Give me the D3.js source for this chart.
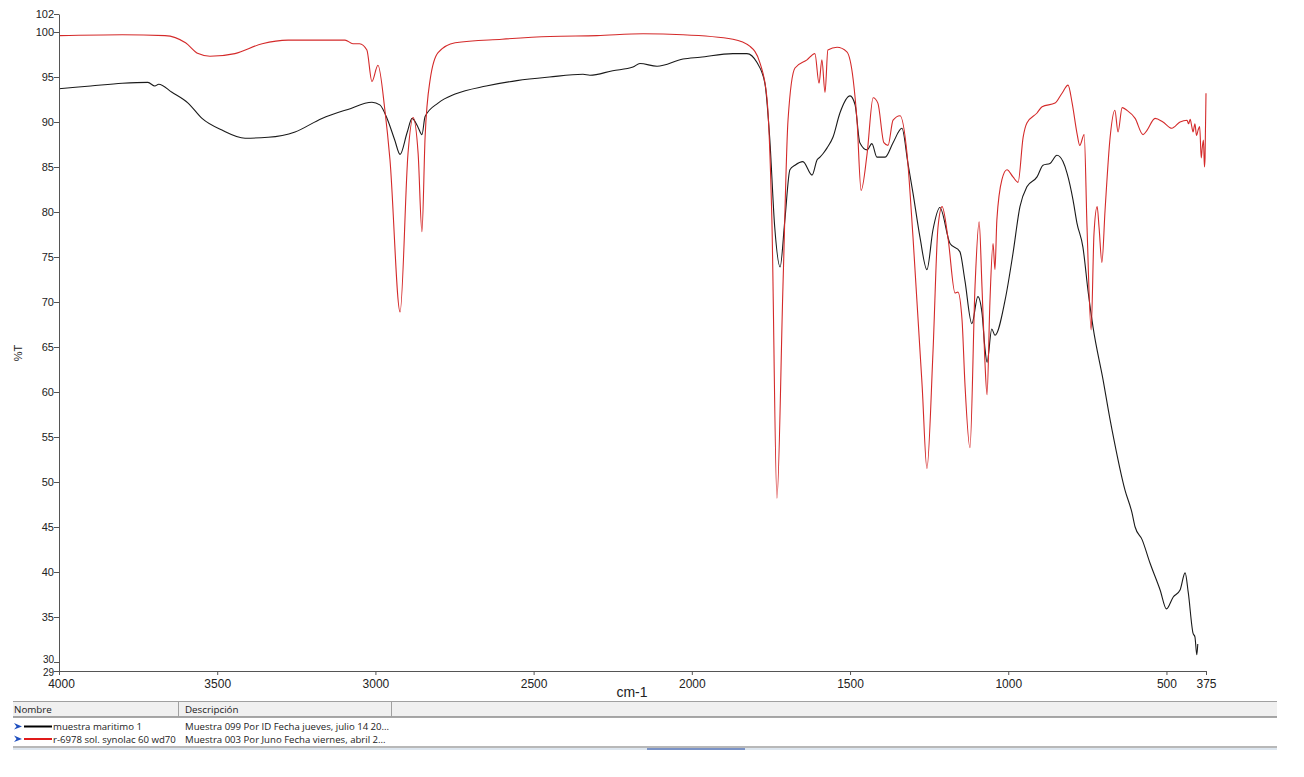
<!DOCTYPE html>
<html><head><meta charset="utf-8">
<script src="https://cdn.jsdelivr.net/npm/d3@7"></script>
<style>
body{margin:0;background:#fff;}
svg{display:block;font-family:"Liberation Sans",Arial,sans-serif;}
</style></head>
<body>
<svg id="c" width="1304" height="777"></svg>
<script>
// ---- data ----
const xTicks = [4000,3500,3000,2500,2000,1500,1000,500,375];
const yTicks = [102,100,95,90,85,80,75,70,65,60,55,50,45,40,35,30,29];
const seriesNames = ["muestra maritimo 1","r-6978 sol. synolac 60 wd70"];
const seriesDesc = ["Muestra 099 Por ID Fecha jueves, julio 14 20...","Muestra 003 Por Juno Fecha viernes, abril 2..."];

const blackWn = [4000,3900,3800,3719,3697,3685,3643,3592,3548,3485,3412,3339,3254,3169,3087,3011,2986,2961,2939,2922,2900,2884,2865,2853,2843,2802,2748,2650,2553,2450,2344,2322,2250,2186,2164,2110,2028,1974,1870,1826,1794,1769,1754,1738,1721,1706,1690,1674,1649,1620,1604,1595,1585,1573,1554,1532,1500,1484,1469,1446,1431,1415,1389,1364,1336,1317,1301,1279,1257,1238,1216,1184,1153,1137,1115,1096,1083,1074,1067,1052,1042,1010,985,963,941,909,890,868,846,827,814,795,783,764,747,732,700,678,672,631,609,599,577,552,520,500,479,457,441,431,416,410,404,401];
const blackT  = [93.7,94.0,94.3,94.4,94.0,94.2,93.3,92.1,90.4,89.1,88.2,88.3,88.9,90.4,91.4,92.2,91.9,90.2,88.0,86.4,88.8,90.4,89.4,88.6,90.6,92.1,93.1,94.0,94.6,95.0,95.3,95.2,95.7,96.1,96.5,96.2,97.0,97.2,97.6,97.6,96.6,94.3,88.3,78.3,73.9,79.1,84.7,85.2,85.6,84.1,85.8,86.1,86.5,87.1,88.3,91.0,92.9,91.9,87.7,86.9,87.6,86.1,86.1,87.7,89.3,85.4,82.1,77.2,73.6,78.0,80.5,76.5,75.6,72.4,67.6,70.6,68.8,65.0,63.3,67.0,66.3,70.2,75.4,80.6,82.8,83.9,85.2,85.4,86.3,85.6,84.3,81.3,78.8,76.1,71.0,67.2,61.3,56.9,55.8,49.1,46.6,45.0,43.6,41.0,38.0,35.9,37.2,38.0,39.9,37.7,33.2,32.8,30.8,32.0];

const redWn = [4000,3800,3665,3600,3560,3523,3444,3358,3276,3096,3071,3050,3027,3011,2992,2970,2954,2922,2897,2881,2865,2853,2843,2827,2802,2748,2600,2448,2300,2154,2028,1870,1816,1785,1763,1747,1731,1712,1696,1674,1636,1611,1598,1589,1579,1570,1541,1510,1490,1478,1465,1446,1427,1412,1393,1380,1364,1342,1320,1301,1272,1257,1238,1222,1209,1190,1168,1159,1146,1137,1121,1105,1092,1083,1074,1067,1058,1048,1042,1036,1020,1004,985,969,953,941,909,893,852,830,811,798,783,774,760,751,738,729,719,713,704,694,678,663,653,640,625,599,574,561,536,511,483,457,435,430,425,420,416,410,405,400,395,390,387,383,380,378,375];
const redT  = [99.6,99.7,99.6,98.8,97.6,97.3,97.6,98.7,99.1,99.1,98.7,98.7,98.0,94.5,96.3,91.3,85.8,68.9,86.5,90.5,86.5,77.8,88.3,94.7,97.7,98.8,99.2,99.5,99.6,99.8,99.7,99.2,98.4,96.6,92.8,79.1,48.2,71.7,90.2,96.0,96.9,97.6,94.3,96.9,93.3,98.0,98.3,97.8,94.7,90.2,82.4,86.5,92.7,92.1,87.7,87.4,90.2,90.7,86.5,77.2,60.6,51.5,64.3,78.3,80.6,77.0,71.0,71.1,68.0,61.0,53.8,71.7,78.9,71.7,63.6,59.7,69.9,76.5,73.6,79.1,83.6,84.7,83.9,83.3,88.3,89.9,91.0,91.7,92.1,93.2,94.1,92.1,88.8,87.4,88.6,78.3,66.9,77.6,80.6,78.3,74.4,80.2,88.3,91.3,88.9,91.6,91.3,90.4,88.6,89.1,90.4,90.0,89.3,90.0,90.2,89.8,90.3,89.5,88.9,89.8,88.5,89.1,89.5,86.0,87.1,88.0,85.0,86.0,93.2];

// ---- drawing ----
const svg = d3.select("#c");
const x = d3.scaleLinear().domain([4000,375]).range([59,1206]);
const y = d3.scaleLinear().domain([29,102]).range([671,14]);

const line = d3.line().x(d=>x(d[0])).y(d=>y(d[1])).curve(d3.curveMonotoneX);
const blackData = blackWn.map((w,i)=>[w,blackT[i]]);
const redData = redWn.map((w,i)=>[w,redT[i]]);

svg.append("path").attr("d",line(blackData)).attr("fill","none").attr("stroke","#1a1a1a").attr("stroke-width",1.1);
svg.append("path").attr("d",line(redData)).attr("fill","none").attr("stroke","#d42a2a").attr("stroke-width",1.1);

// axes
const xAxis = d3.axisBottom(x).tickValues(xTicks).tickSize(4).tickSizeOuter(0).tickFormat(d3.format("d"));
const gx = svg.append("g").attr("transform","translate(0,671)").call(xAxis);
gx.select(".domain").attr("stroke","#555");
gx.selectAll(".tick line").attr("stroke","#555");
gx.selectAll("text").attr("font-size",12).attr("fill","#222").attr("dy","0.85em");
gx.selectAll(".tick").filter(d=>d===4000).select("text").attr("dx","2");

const yAxis = d3.axisLeft(y).tickValues(yTicks).tickSize(5).tickSizeOuter(0).tickFormat(d3.format("d"));
const gy = svg.append("g").attr("transform","translate(59,0)").call(yAxis);
gy.select(".domain").attr("stroke","#555");
gy.selectAll(".tick line").attr("stroke","#555");
gy.selectAll("text").attr("font-size",11).attr("fill","#222").attr("x",-5).attr("dy","0.32em");
gy.selectAll(".tick").filter(d=>d===30).select("text").attr("font-size",10).attr("dy","0.0em");
gy.selectAll(".tick").filter(d=>d===29).select("text").attr("font-size",10).attr("dy","0.45em");

svg.append("text").attr("x",632).attr("y",697).attr("text-anchor","middle").attr("font-size",14).attr("fill","#222").text("cm-1");
svg.append("text").attr("transform","translate(22,353) rotate(-90)").attr("text-anchor","middle").attr("font-size",11).attr("fill","#222").text("%T");

// legend table
const tbl = svg.append("g").attr("font-family","'Open Sans','Liberation Sans',sans-serif");
tbl.append("rect").attr("x",13).attr("y",701).attr("width",1264).attr("height",16).attr("fill","#f0f0f0");
tbl.append("line").attr("x1",13).attr("x2",1277).attr("y1",701.5).attr("y2",701.5).attr("stroke","#a0a0a0");
tbl.append("line").attr("x1",13).attr("x2",1277).attr("y1",717).attr("y2",717).attr("stroke","#8a8a8a").attr("stroke-width",1.5);
[178,391].forEach(cx=>tbl.append("line").attr("x1",cx+0.5).attr("x2",cx+0.5).attr("y1",701).attr("y2",717).attr("stroke","#a0a0a0"));
tbl.append("text").attr("x",14).attr("y",713).attr("font-size",9.8).attr("fill","#222").text("Nombre");
tbl.append("text").attr("x",185).attr("y",713).attr("font-size",9.8).attr("fill","#222").text("Descripción");
tbl.append("line").attr("x1",13).attr("x2",1277).attr("y1",747).attr("y2",747).attr("stroke","#a0a0a0").attr("stroke-width",1.5);
tbl.append("rect").attr("x",13).attr("y",748).attr("width",1264).attr("height",2).attr("fill","#dde6ef");
tbl.append("rect").attr("x",647).attr("y",748).attr("width",98).attr("height",2).attr("fill","#7b93c6");

const colors = ["#000000","#e01a1a"];
seriesNames.forEach((n,i)=>{
  const yy = 726.5 + i*12.5;
  tbl.append("path").attr("d",`M14,${yy-3.5} L22,${yy} L14,${yy+3} L16.5,${yy} Z`).attr("fill","#1f4fbf");
  tbl.append("line").attr("x1",24).attr("x2",52).attr("y1",yy).attr("y2",yy).attr("stroke",colors[i]).attr("stroke-width",2);
  tbl.append("text").attr("x",53).attr("y",yy+3.5).attr("font-size",9.6).attr("fill","#222").text(n);
  tbl.append("text").attr("x",185).attr("y",yy+3.5).attr("font-size",9.6).attr("fill","#222").text(seriesDesc[i]);
});
</script>
</body></html>
